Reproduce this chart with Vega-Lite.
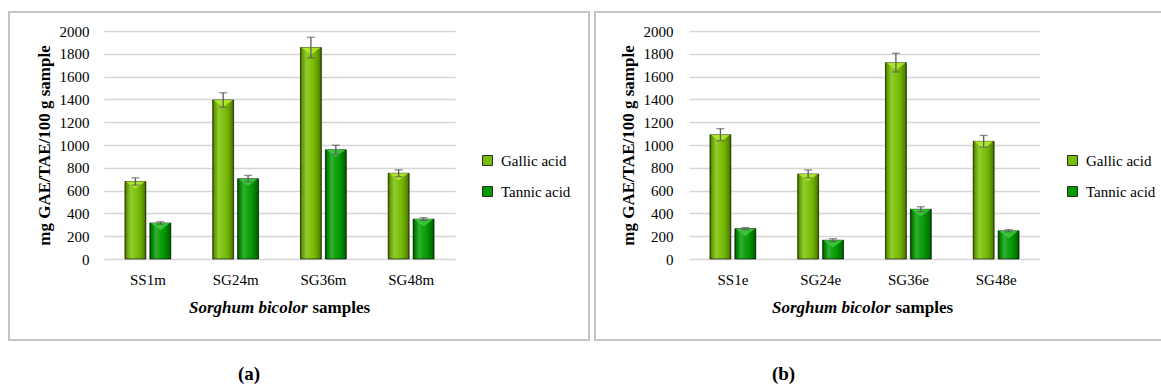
{
  "$schema": "https://vega.github.io/schema/vega-lite/v6.json",
  "background": "white",
  "padding": {"left": 8, "top": 11, "right": 0, "bottom": 0},
  "datasets": {
    "methanol": [
      {"sample": "SS1m", "acid": "Gallic acid", "value": 680, "lo": 648, "hi": 712},
      {"sample": "SS1m", "acid": "Tannic acid", "value": 316, "lo": 305, "hi": 327},
      {"sample": "SG24m", "acid": "Gallic acid", "value": 1395, "lo": 1332, "hi": 1458},
      {"sample": "SG24m", "acid": "Tannic acid", "value": 705, "lo": 677, "hi": 733},
      {"sample": "SG36m", "acid": "Gallic acid", "value": 1855, "lo": 1765, "hi": 1945},
      {"sample": "SG36m", "acid": "Tannic acid", "value": 958, "lo": 918, "hi": 998},
      {"sample": "SG48m", "acid": "Gallic acid", "value": 752, "lo": 722, "hi": 782},
      {"sample": "SG48m", "acid": "Tannic acid", "value": 350, "lo": 338, "hi": 362}
    ],
    "ethanol": [
      {"sample": "SS1e", "acid": "Gallic acid", "value": 1090, "lo": 1037, "hi": 1143},
      {"sample": "SS1e", "acid": "Tannic acid", "value": 266, "lo": 256, "hi": 276},
      {"sample": "SG24e", "acid": "Gallic acid", "value": 746, "lo": 711, "hi": 781},
      {"sample": "SG24e", "acid": "Tannic acid", "value": 165, "lo": 152, "hi": 178},
      {"sample": "SG36e", "acid": "Gallic acid", "value": 1722, "lo": 1640, "hi": 1804},
      {"sample": "SG36e", "acid": "Tannic acid", "value": 436, "lo": 414, "hi": 458},
      {"sample": "SG48e", "acid": "Gallic acid", "value": 1032, "lo": 980, "hi": 1084},
      {"sample": "SG48e", "acid": "Tannic acid", "value": 247, "lo": 237, "hi": 257}
    ]
  },
  "spacing": 4,
  "hconcat": [
    {
      "width": 580,
      "height": 328,
      "data": {"name": "methanol"},
      "title": {"text": "(a)", "orient": "bottom", "anchor": "middle", "dx": -50, "offset": 25},
      "resolve": {"axis": {"x": "independent"}},
      "layer": [
        {
          "mark": {"type": "bar"},
          "encoding": {
            "x": {
              "field": "sample", "type": "nominal",
              "scale": {"domain": ["SS1m", "SG24m", "SG36m", "SG48m"], "range": [95, 446], "paddingInner": 0, "paddingOuter": 0},
              "axis": {"orient": "bottom", "offset": -81, "labelAngle": 0, "labelPadding": 13, "grid": false,
                       "title": "Sorghum bicolor", "titleFontStyle": "italic", "titleAlign": "right", "titleBaseline": "alphabetic",
                       "titleX": 298, "titleY": 53, "titleAngle": 0}
            },
            "xOffset": {"field": "acid", "type": "nominal", "scale": {"domain": ["Gallic acid", "Tannic acid"], "paddingInner": 0.16, "paddingOuter": 0.84}},
            "y": {
              "field": "value", "type": "quantitative",
              "scale": {"domain": [0, 2000], "range": [247, 19], "nice": false},
              "axis": {"values": [0, 200, 400, 600, 800, 1000, 1200, 1400, 1600, 1800, 2000], "tickCount": 20, "offset": -95, "labelPadding": 15,
                       "labelOverlap": false, "format": "d", "title": "mg GAE/TAE/100 g sample", "titlePadding": 6}
            },
            "color": {
              "field": "acid", "type": "nominal",
              "scale": {"domain": ["Gallic acid", "Tannic acid"], "range": ["#78be00", "#009c00"]},
              "legend": {"orient": "none", "legendX": 471, "legendY": 141}
            }
          }
        },
        {
          "mark": {
            "type": "bar",
            "fill": {"gradient": "linear", "x1": 0, "x2": 1, "y1": 0, "y2": 0, "stops": [
              {"offset": 0, "color": "rgba(0,0,0,0.5)"},
              {"offset": 0.1, "color": "rgba(0,0,0,0.15)"},
              {"offset": 0.28, "color": "rgba(255,255,255,0.2)"},
              {"offset": 0.5, "color": "rgba(255,255,255,0.06)"},
              {"offset": 0.75, "color": "rgba(0,0,0,0.1)"},
              {"offset": 0.92, "color": "rgba(0,0,0,0.3)"},
              {"offset": 1, "color": "rgba(0,0,0,0.55)"}
            ]},
            "stroke": "rgba(0,0,0,0.6)",
            "strokeWidth": 1
          },
          "encoding": {
            "x": {"field": "sample", "type": "nominal", "axis": null},
            "xOffset": {"field": "acid", "type": "nominal"},
            "y": {"field": "value", "type": "quantitative",
                  "axis": {"values": [0, 200, 400, 600, 800, 1000, 1200, 1400, 1600, 1800, 2000], "tickCount": 20, "offset": -95, "labelPadding": 15,
                           "labelOverlap": false, "format": "d", "title": "mg GAE/TAE/100 g sample", "titlePadding": 6}}
          }
        },
        {
          "mark": {"type": "point", "shape": "M-1,0L1,0L0,0.75Z", "size": 380, "filled": true, "strokeWidth": 0, "opacity": 0.85},
          "encoding": {
            "x": {"field": "sample", "type": "nominal", "axis": null},
            "xOffset": {"field": "acid", "type": "nominal"},
            "y": {"field": "value", "type": "quantitative",
                  "axis": {"values": [0, 200, 400, 600, 800, 1000, 1200, 1400, 1600, 1800, 2000], "tickCount": 20, "offset": -95, "labelPadding": 15,
                           "labelOverlap": false, "format": "d", "title": "mg GAE/TAE/100 g sample", "titlePadding": 6}},
            "fill": {
              "field": "acid", "type": "nominal",
              "scale": {"domain": ["Gallic acid", "Tannic acid"], "range": ["#b4ec2a", "#3ccc3c"]},
              "legend": null
            }
          }
        },
        {
          "mark": {"type": "rule", "color": "#5c5c5c", "strokeWidth": 1.3},
          "encoding": {
            "x": {
              "field": "sample", "type": "nominal",
              "axis": {"orient": "bottom", "offset": -81, "labels": false, "grid": false,
                       "title": "samples", "titleFontWeight": "bold", "titleAlign": "left", "titleBaseline": "alphabetic",
                       "titleX": 303, "titleY": 53, "titleAngle": 0}
            },
            "xOffset": {"field": "acid", "type": "nominal"},
            "y": {"field": "lo", "type": "quantitative",
                  "axis": {"values": [0, 200, 400, 600, 800, 1000, 1200, 1400, 1600, 1800, 2000], "tickCount": 20, "offset": -95, "labelPadding": 15,
                           "labelOverlap": false, "format": "d", "title": "mg GAE/TAE/100 g sample", "titlePadding": 6}},
            "y2": {"field": "hi"}
          }
        },
        {
          "mark": {"type": "tick", "color": "#5c5c5c", "size": 8, "thickness": 1.3, "orient": "horizontal"},
          "encoding": {
            "x": {"field": "sample", "type": "nominal", "axis": null},
            "xOffset": {"field": "acid", "type": "nominal"},
            "y": {"field": "lo", "type": "quantitative",
                  "axis": {"values": [0, 200, 400, 600, 800, 1000, 1200, 1400, 1600, 1800, 2000], "tickCount": 20, "offset": -95, "labelPadding": 15,
                           "labelOverlap": false, "format": "d", "title": "mg GAE/TAE/100 g sample", "titlePadding": 6}}
          }
        },
        {
          "mark": {"type": "tick", "color": "#5c5c5c", "size": 8, "thickness": 1.3, "orient": "horizontal"},
          "encoding": {
            "x": {"field": "sample", "type": "nominal", "axis": null},
            "xOffset": {"field": "acid", "type": "nominal"},
            "y": {"field": "hi", "type": "quantitative",
                  "axis": {"values": [0, 200, 400, 600, 800, 1000, 1200, 1400, 1600, 1800, 2000], "tickCount": 20, "offset": -95, "labelPadding": 15,
                           "labelOverlap": false, "format": "d", "title": "mg GAE/TAE/100 g sample", "titlePadding": 6}}
          }
        }
      ]
    },
    {
      "width": 567,
      "height": 328,
      "data": {"name": "ethanol"},
      "title": {"text": "(b)", "orient": "bottom", "anchor": "middle", "dx": -95, "offset": 25},
      "resolve": {"axis": {"x": "independent"}},
      "layer": [
        {
          "mark": {"type": "bar"},
          "encoding": {
            "x": {
              "field": "sample", "type": "nominal",
              "scale": {"domain": ["SS1e", "SG24e", "SG36e", "SG48e"], "range": [94, 445], "paddingInner": 0, "paddingOuter": 0},
              "axis": {"orient": "bottom", "offset": -81, "labelAngle": 0, "labelPadding": 13, "grid": false,
                       "title": "Sorghum bicolor", "titleFontStyle": "italic", "titleAlign": "right", "titleBaseline": "alphabetic",
                       "titleX": 295, "titleY": 53, "titleAngle": 0}
            },
            "xOffset": {"field": "acid", "type": "nominal", "scale": {"domain": ["Gallic acid", "Tannic acid"], "paddingInner": 0.16, "paddingOuter": 0.84}},
            "y": {
              "field": "value", "type": "quantitative",
              "scale": {"domain": [0, 2000], "range": [247, 19], "nice": false},
              "axis": {"values": [0, 200, 400, 600, 800, 1000, 1200, 1400, 1600, 1800, 2000], "tickCount": 20, "offset": -94, "labelPadding": 16,
                       "labelOverlap": false, "format": "d", "title": "mg GAE/TAE/100 g sample", "titlePadding": 6}
            },
            "color": {
              "field": "acid", "type": "nominal",
              "scale": {"domain": ["Gallic acid", "Tannic acid"], "range": ["#78be00", "#009c00"]},
              "legend": {"orient": "none", "legendX": 470, "legendY": 141}
            }
          }
        },
        {
          "mark": {
            "type": "bar",
            "fill": {"gradient": "linear", "x1": 0, "x2": 1, "y1": 0, "y2": 0, "stops": [
              {"offset": 0, "color": "rgba(0,0,0,0.5)"},
              {"offset": 0.1, "color": "rgba(0,0,0,0.15)"},
              {"offset": 0.28, "color": "rgba(255,255,255,0.2)"},
              {"offset": 0.5, "color": "rgba(255,255,255,0.06)"},
              {"offset": 0.75, "color": "rgba(0,0,0,0.1)"},
              {"offset": 0.92, "color": "rgba(0,0,0,0.3)"},
              {"offset": 1, "color": "rgba(0,0,0,0.55)"}
            ]},
            "stroke": "rgba(0,0,0,0.6)",
            "strokeWidth": 1
          },
          "encoding": {
            "x": {"field": "sample", "type": "nominal", "axis": null},
            "xOffset": {"field": "acid", "type": "nominal"},
            "y": {"field": "value", "type": "quantitative",
                  "axis": {"values": [0, 200, 400, 600, 800, 1000, 1200, 1400, 1600, 1800, 2000], "tickCount": 20, "offset": -94, "labelPadding": 16,
                           "labelOverlap": false, "format": "d", "title": "mg GAE/TAE/100 g sample", "titlePadding": 6}}
          }
        },
        {
          "mark": {"type": "point", "shape": "M-1,0L1,0L0,0.75Z", "size": 380, "filled": true, "strokeWidth": 0, "opacity": 0.85},
          "encoding": {
            "x": {"field": "sample", "type": "nominal", "axis": null},
            "xOffset": {"field": "acid", "type": "nominal"},
            "y": {"field": "value", "type": "quantitative",
                  "axis": {"values": [0, 200, 400, 600, 800, 1000, 1200, 1400, 1600, 1800, 2000], "tickCount": 20, "offset": -94, "labelPadding": 16,
                           "labelOverlap": false, "format": "d", "title": "mg GAE/TAE/100 g sample", "titlePadding": 6}},
            "fill": {
              "field": "acid", "type": "nominal",
              "scale": {"domain": ["Gallic acid", "Tannic acid"], "range": ["#b4ec2a", "#3ccc3c"]},
              "legend": null
            }
          }
        },
        {
          "mark": {"type": "rule", "color": "#5c5c5c", "strokeWidth": 1.3},
          "encoding": {
            "x": {
              "field": "sample", "type": "nominal",
              "axis": {"orient": "bottom", "offset": -81, "labels": false, "grid": false,
                       "title": "samples", "titleFontWeight": "bold", "titleAlign": "left", "titleBaseline": "alphabetic",
                       "titleX": 300, "titleY": 53, "titleAngle": 0}
            },
            "xOffset": {"field": "acid", "type": "nominal"},
            "y": {"field": "lo", "type": "quantitative",
                  "axis": {"values": [0, 200, 400, 600, 800, 1000, 1200, 1400, 1600, 1800, 2000], "tickCount": 20, "offset": -94, "labelPadding": 16,
                           "labelOverlap": false, "format": "d", "title": "mg GAE/TAE/100 g sample", "titlePadding": 6}},
            "y2": {"field": "hi"}
          }
        },
        {
          "mark": {"type": "tick", "color": "#5c5c5c", "size": 8, "thickness": 1.3, "orient": "horizontal"},
          "encoding": {
            "x": {"field": "sample", "type": "nominal", "axis": null},
            "xOffset": {"field": "acid", "type": "nominal"},
            "y": {"field": "lo", "type": "quantitative",
                  "axis": {"values": [0, 200, 400, 600, 800, 1000, 1200, 1400, 1600, 1800, 2000], "tickCount": 20, "offset": -94, "labelPadding": 16,
                           "labelOverlap": false, "format": "d", "title": "mg GAE/TAE/100 g sample", "titlePadding": 6}}
          }
        },
        {
          "mark": {"type": "tick", "color": "#5c5c5c", "size": 8, "thickness": 1.3, "orient": "horizontal"},
          "encoding": {
            "x": {"field": "sample", "type": "nominal", "axis": null},
            "xOffset": {"field": "acid", "type": "nominal"},
            "y": {"field": "hi", "type": "quantitative",
                  "axis": {"values": [0, 200, 400, 600, 800, 1000, 1200, 1400, 1600, 1800, 2000], "tickCount": 20, "offset": -94, "labelPadding": 16,
                           "labelOverlap": false, "format": "d", "title": "mg GAE/TAE/100 g sample", "titlePadding": 6}}
          }
        }
      ]
    }
  ],
  "resolve": {
    "scale": {"x": "independent", "y": "independent", "xOffset": "independent", "color": "independent", "fill": "independent"},
    "legend": {"color": "independent"}
  },
  "config": {
    "font": "Liberation Serif",
    "view": {"stroke": "#c4c4c4", "strokeWidth": 2},
    "axis": {
      "labelFont": "Liberation Serif", "labelFontSize": 15, "labelColor": "#000",
      "titleFont": "Liberation Serif", "titleFontSize": 17, "titleColor": "#000", "titleFontWeight": "bold",
      "domain": false, "ticks": false, "gridColor": "#d6d6d6", "gridWidth": 1.5
    },
    "legend": {
      "title": null, "symbolType": "square", "symbolSize": 100, "symbolStrokeColor": "#2a2a2a", "symbolStrokeWidth": 1,
      "labelFont": "Liberation Serif", "labelFontSize": 15, "labelColor": "#000", "labelOffset": 6,
      "rowPadding": 15, "padding": 0
    },
    "title": {"font": "Liberation Serif", "fontSize": 19, "fontWeight": "bold", "color": "#000"}
  }
}
